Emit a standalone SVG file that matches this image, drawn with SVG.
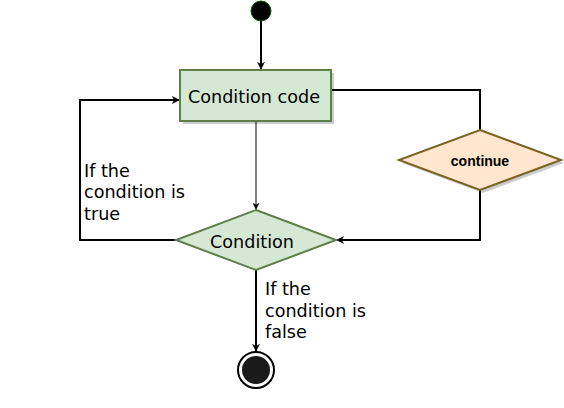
<svg xmlns="http://www.w3.org/2000/svg" width="564" height="408" viewBox="0 0 564 408">
<style>
.t{font-family:"DejaVu Sans",Verdana,sans-serif;font-size:17.6px;fill:#000}
.c{text-anchor:middle}
.ln{fill:none;stroke:#000;stroke-width:2}
.thin{fill:none;stroke:#000;stroke-width:1}
.sh{fill:#000;opacity:0.2}
</style>
<defs>
<marker id="a" viewBox="0 0 10 10" refX="9" refY="5" markerWidth="8" markerHeight="8" markerUnits="userSpaceOnUse" orient="auto"><path d="M0,0 L10,5 L0,10 L3,5 z" fill="#000"/></marker>
<marker id="as" viewBox="0 0 10 10" refX="9" refY="5" markerWidth="7" markerHeight="7" markerUnits="userSpaceOnUse" orient="auto"><path d="M0,0 L10,5 L0,10 L3,5 z" fill="#000"/></marker>
</defs>
<g id="connectors">
<path class="ln" d="M261,21 L261,69" marker-end="url(#a)"/>
<path class="ln" d="M331,90 L480,90 L480,130"/>
<path class="ln" d="M480,190 L480,240 L337,240" marker-end="url(#a)"/>
<path class="thin" d="M256,121 L256,209" marker-end="url(#as)"/>
<path class="ln" d="M176,240 L80,240 L80,100 L179,100" marker-end="url(#a)"/>
<path class="ln" d="M256,270 L256,351" marker-end="url(#a)"/>
</g>
<g id="start"><circle cx="261" cy="11" r="10" fill="#000" stroke="#005700" stroke-width="1"/></g>
<g id="condition-code">
<rect class="sh" x="183" y="73" width="151" height="51"/>
<rect x="180" y="70" width="151" height="51" fill="#d5e8d4" stroke="#5e7e4a" stroke-width="2"/>
<text class="t c" x="254" y="103">Condition code</text>
</g>
<g id="continue">
<polygon class="sh" points="483,133 564,163 483,193 402,163"/>
<polygon points="480,130 561,160 480,190 399,160" fill="#ffe6cc" stroke="#7a6224" stroke-width="2"/>
<text x="480" y="166" text-anchor="middle" style="font-family:'Liberation Sans',Arial,sans-serif;font-size:14px;font-weight:bold">continue</text>
</g>
<g id="condition">
<polygon points="256,210 336,240 256,270 176,240" fill="#d5e8d4" stroke="#5e7e4a" stroke-width="2"/>
<text class="t c" x="252" y="248">Condition</text>
</g>
<g id="end">
<circle cx="256" cy="370" r="18" fill="#fff" stroke="#000" stroke-width="2"/>
<circle cx="256" cy="370" r="14" fill="#1a1a1a"/>
</g>
<g id="labels">
<text class="t" x="84" y="177">If the</text>
<text class="t" x="84" y="198">condition is</text>
<text class="t" x="84" y="220">true</text>
<text class="t" x="265" y="295">If the</text>
<text class="t" x="265" y="317">condition is</text>
<text class="t" x="265" y="338">false</text>
</g>
</svg>
